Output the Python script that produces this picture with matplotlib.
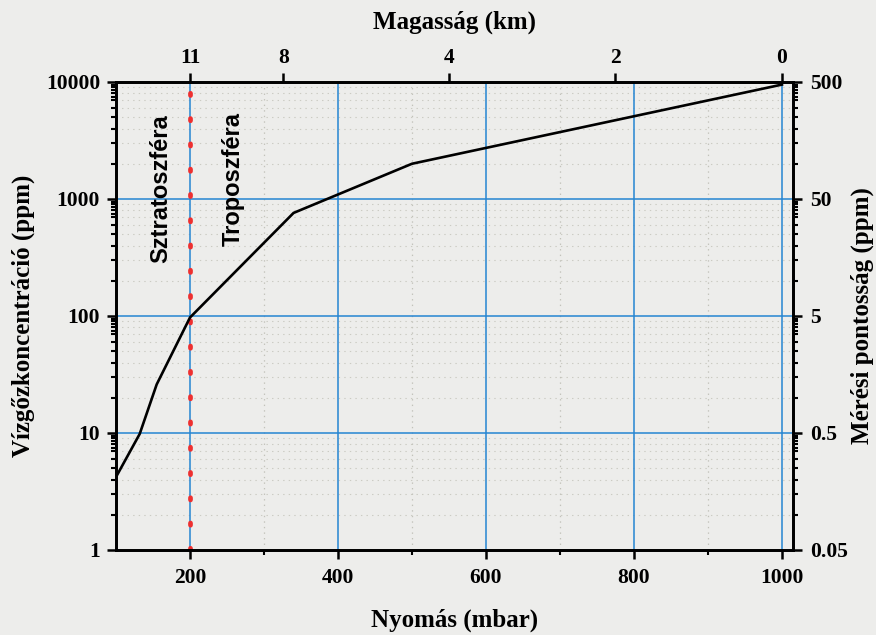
import matplotlib
matplotlib.use("Agg")
import matplotlib.pyplot as plt
from matplotlib.ticker import LogLocator, FixedLocator, NullFormatter, NullLocator

# Water vapour concentration profile vs. pressure
pressure_mbar = [100, 132, 155, 200, 340, 500, 1000]
vapour_ppm = [4.2, 9.8, 26, 97, 760, 2000, 9500]

# Bottom axis ticks
pressure_major = [200, 400, 600, 800, 1000]
pressure_minor = [300, 500, 700, 900]

# Altitude scale on the top axis (pressure position -> label)
altitude_pos = [200, 326, 550, 775, 1000]
altitude_labels = ["11", "8", "4", "2", "0"]

# Left axis ticks
conc_ticks = [1, 10, 100, 1000, 10000]
conc_labels = ["1", "10", "100", "1000", "10000"]
log_subs = [2, 3, 4, 5, 6, 7, 7.5, 8, 8.5, 9, 9.5]

# Right axis: measurement accuracy (ppm)
accuracy_ticks = [0.05, 0.5, 5, 50, 500]
accuracy_labels = ["0.05", "0.5", "5", "50", "500"]
accuracy_ratio = 20.0

tropopause_mbar = 200

plt.rcParams["lines.scale_dashes"] = False
serif = ["Liberation Serif", "DejaVu Serif"]
sans = ["Liberation Sans", "DejaVu Sans"]
bg = "#ededeb"
blue = "#2585d2"
label_kw = dict(fontsize=18, fontweight="bold", family=serif)
major_len, minor_len = 6.5, 3.6

fig = plt.figure(figsize=(8.76, 6.35), dpi=100, facecolor=bg)
ax = fig.add_axes([0.1324, 0.1339, 0.9053 - 0.1324, 0.8709 - 0.1339])
ax.set_facecolor(bg)

xlim = (100, 1015)
ylim = (1, 10000)
ax.set_xlim(*xlim)
ax.set_yscale("log")
ax.set_ylim(*ylim)

# Faint dotted minor grid
for p in pressure_minor:
    ax.axvline(p, color="#c2c2ba", lw=0.9, ls=(0, (1, 3)), zorder=1)
for dec in [1, 10, 100, 1000]:
    for m in range(2, 10):
        ax.axhline(dec * m, color="#cbcbc3", lw=0.8, ls=(0, (1, 3)), zorder=1)

# Blue major grid
for p in pressure_major:
    ax.axvline(p, color=blue, lw=1.1, zorder=2)
for c in conc_ticks[1:-1]:
    ax.axhline(c, color=blue, lw=1.1, zorder=2)

# Tropopause marker
ax.plot([tropopause_mbar, tropopause_mbar], [ylim[0], ylim[1] * 0.95],
        color="#ee3030", lw=3.4, ls=(0, (1.6, 16.6)),
        dash_capstyle="round", zorder=3)

# Profile
ax.plot(pressure_mbar, vapour_ppm, color="black", lw=1.9, zorder=4,
        solid_joinstyle="miter")

# Region labels
ax.text(160, 5300, "Sztratoszféra", rotation=90, ha="center", va="top",
        fontsize=17, fontweight="bold", family=sans, zorder=5)
ax.text(258, 5500, "Troposzféra", rotation=90, ha="center", va="top",
        fontsize=17, fontweight="bold", family=sans, zorder=5)

# Axis styling
for s in ax.spines.values():
    s.set_linewidth(1.8)
    s.set_zorder(6)

ax.xaxis.set_major_locator(FixedLocator(pressure_major))
ax.xaxis.set_minor_locator(FixedLocator(pressure_minor))
ax.set_xticklabels([str(p) for p in pressure_major])
ax.yaxis.set_major_locator(FixedLocator(conc_ticks))
ax.yaxis.set_minor_locator(LogLocator(base=10, subs=log_subs))
ax.yaxis.set_minor_formatter(NullFormatter())
ax.set_yticklabels(conc_labels)
ax.tick_params(axis="x", which="major", direction="out", length=major_len,
               width=1.8, labelsize=15.5, pad=6.5)
ax.tick_params(axis="y", which="major", direction="out", length=major_len,
               width=1.8, labelsize=15.5, pad=5)
ax.tick_params(axis="both", which="minor", direction="out", length=minor_len,
               width=1.5)
for lab in ax.get_xticklabels() + ax.get_yticklabels():
    lab.set_family(serif)
    lab.set_fontweight("bold")

xl = ax.set_xlabel("Nyomás (mbar)", **label_kw)
xl.set_va("center")
ax.xaxis.set_label_coords(0.5, -70 / 468)
yl = ax.set_ylabel("Vízgőzkoncentráció (ppm)", **label_kw)
yl.set_ha("center")
yl.set_va("center")
ax.yaxis.set_label_coords(-(116 - 23) / 677, 0.5)

# Top altitude axis
top = ax.twiny()
top.set_xlim(*xlim)
top.xaxis.set_major_locator(FixedLocator(altitude_pos))
top.set_xticklabels(altitude_labels)
top.xaxis.set_minor_locator(NullLocator())
top.tick_params(axis="x", which="major", direction="out", length=major_len,
                width=1.8, labelsize=15.5, pad=3.5)
for lab in top.get_xticklabels():
    lab.set_family(serif)
    lab.set_fontweight("bold")
tl = top.set_xlabel("Magasság (km)", **label_kw)
tl.set_va("center")
top.xaxis.set_label_coords(0.5, 1 + (82 - 22) / 468)

# Right accuracy axis
right = ax.twinx()
right.set_yscale("log")
right.set_ylim(ylim[0] / accuracy_ratio, ylim[1] / accuracy_ratio)
right.yaxis.set_major_locator(FixedLocator(accuracy_ticks))
right.set_yticklabels(accuracy_labels)
right.yaxis.set_minor_locator(LogLocator(base=10, subs=[s / 2 for s in log_subs]))
right.yaxis.set_minor_formatter(NullFormatter())
right.tick_params(axis="y", which="major", direction="out", length=major_len,
                  width=1.8, labelsize=15.5, pad=5.5)
right.tick_params(axis="y", which="minor", direction="out", length=minor_len,
                  width=1.5)
for lab in right.get_yticklabels():
    lab.set_family(serif)
    lab.set_fontweight("bold")
rl = right.set_ylabel("Mérési pontosság (ppm)", rotation=90, **label_kw)
rl.set_ha("center")
rl.set_va("center")
right.yaxis.set_label_coords(1 + (862 - 793) / 677, 0.5)
for a in (top, right):
    for s in a.spines.values():
        s.set_linewidth(1.8)

fig.savefig("out.png", dpi=100, facecolor=bg)
